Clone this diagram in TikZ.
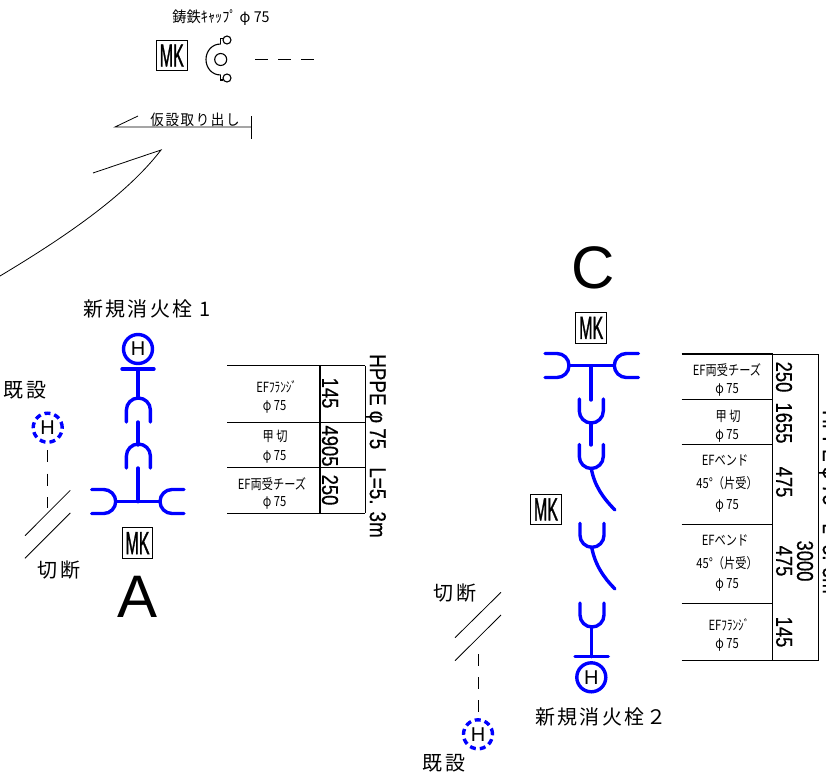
\documentclass[tikz,border=0pt]{standalone}
\usepackage{fontspec}
\setmainfont{Liberation Sans}
\newfontfamily\jp{Noto Sans CJK JP}
\newfontfamily\jpw[LetterSpace=12]{Noto Sans CJK JP}
\newfontfamily\dimf[FakeBold=0.6]{Liberation Sans}
\newfontfamily\mkf[FakeBold=1.5]{Liberation Sans}
\newcommand\tbltext[1]{\scalebox{.8}[1]{\fontsize{14}{14}\selectfont\jp #1}}
\newcommand\lbltext[1]{{\fontsize{20}{20}\selectfont\jpw #1}}
\newcommand\dimtext[1]{\scalebox{.8}[1]{\fontsize{23}{23}\selectfont\dimf #1}}
\newcommand\pipetext[1]{\scalebox{.82}[1]{\fontsize{23}{23}\selectfont\dimf #1}}
\newcommand\mktext{\scalebox{.5}[1]{\fontsize{32}{32}\selectfont\mkf MK}}
\tikzset{
  pipe/.style={draw={rgb,255:red,0;green,0;blue,255},line width=3.4pt,line cap=round},
  thinline/.style={draw=black,line width=.8pt},
  capline/.style={draw=black,line width=1.1pt},
  rowline/.style={draw=black,line width=1.2pt},
  mkbox/.style={draw=black,line width=1pt,minimum width=30.5pt,minimum height=30.5pt,inner sep=0pt,fill=white},
  hyd/.style={circle,draw={rgb,255:red,0;green,0;blue,255},line width=3.4pt,minimum size=29pt,inner sep=0pt,font=\fontsize{20}{20}\selectfont},
  hydold/.style={hyd,dash pattern=on 6pt off 4pt},
  tbl/.style={inner sep=0pt},
  dim/.style={inner sep=0pt,rotate=-90},
  usock/.pic={\path[pipe] (-12,0) -- (-12,12) .. controls (-12,18.6) and (-6.6,24) .. (0,24) .. controls (6.6,24) and (12,18.6) .. (12,12) -- (12,0);},
}
\begin{document}
\begin{tikzpicture}[x=1pt,y=-1pt]
\clip (0,0) rectangle (826,776);
% cap
\node[tbl] (captext) at (221,18) {\scalebox{.95}[1]{\fontsize{15}{15}\selectfont\jp 鋳鉄ｷｬｯﾌﾟ φ 75}};
\node[mkbox] (mk0) at (171.8,55.5) {\mktext};
\draw[capline] (220.7,44) .. controls (212,44) and (206,51) .. (206,59.5) .. controls (206,68) and (212,75) .. (220.7,75);
\draw[capline] (220.7,44) -- (220.7,38.5) -- (223,38.5);
\draw[capline] (220.7,75) -- (220.7,80) -- (223,80);
\node[circle,capline,minimum size=12pt,inner sep=0pt] (c0) at (220.7,59.5) {};
\node[circle,capline,minimum size=8pt,inner sep=0pt] (c1) at (227,40) {};
\node[circle,capline,minimum size=8pt,inner sep=0pt] (c2) at (227,78) {};
\draw[thinline,dash pattern=on 13pt off 10pt] (255,59.5) -- (314,59.5);
% temporary
\node[tbl] (temp) at (195,119.5) {\scalebox{.9}[1]{\fontsize{15}{15}\selectfont\jpw 仮設取り出し}};
\draw[thinline] (138,116) -- (115,127) -- (251,127);
\draw[thinline] (251,116) -- (251,139);
\draw[thinline] (0,276) .. controls (60,240) and (125,197) .. (161,150) -- (93,173);
% A
\node (newa) at (147,309) {\lbltext{新規消火栓 1}};
\node[hyd] (ha) at (138,349) {H};
\draw[pipe] (122,369) -- (154,369);
\draw[pipe] (138,369) -- (138,398);
\pic[rotate=180] at (138.4,422) {usock};
\draw[pipe] (138,422) -- (138,445);
\pic[rotate=180] at (138.4,468) {usock};
\draw[pipe] (138,468) -- (138,501.7);
\draw[pipe] (116.7,501.7) -- (160,501.7);
\pic[rotate=90] at (91.7,501.5) {usock};
\pic[rotate=-90] at (184,501.5) {usock};
\node[mkbox] (mka) at (137.5,543) {\mktext};
\node[inner sep=0pt] (la) at (138,597) {\fontsize{60}{60}\selectfont A};
\node (olda) at (25,390) {\lbltext{既設}};
\node[hydold] (hoa) at (47.7,427.7) {H};
\draw[thinline,dash pattern=on 12pt off 11.5pt] (47.7,450) -- (47.7,508);
\draw[thinline] (25,535.7) -- (70.3,490.3);
\draw[thinline] (25,558.3) -- (70.3,513);
\node (cuta) at (59,570) {\lbltext{切断}};
% table A
\foreach \yy in {365.7,422.3,467.3,513.3} {\draw[rowline] (227.3,\yy) -- (320,\yy);\draw[thinline] (320,\yy) -- (365,\yy);}
\draw[rowline] (320,365.7) -- (320,513.3);
\draw[thinline] (365,365.7) -- (365,513.3);
\node[tbl] at (276.7,387) {\tbltext{EFﾌﾗﾝｼﾞ}};
\node[tbl] at (274.5,407) {\tbltext{φ 75}};
\node[tbl] at (275,436.7) {\tbltext{甲 切}};
\node[tbl] at (274.5,456.7) {\tbltext{φ 75}};
\node[tbl] at (272,484.3) {\tbltext{EF両受チーズ}};
\node[tbl] at (274.5,503) {\tbltext{φ 75}};
\node[dim] at (330,393) {\dimtext{145}};
\node[dim] at (330,446) {\dimtext{4905}};
\node[dim] at (330,490) {\dimtext{250}};
\node[dim] at (375.5,446) {\pipetext{HPPE φ 75\hspace{22pt}L=5. 3m}};
% C
\node[inner sep=0pt] (lc) at (592.7,267.5) {\fontsize{60}{60}\selectfont C};
\node[mkbox] (mkc) at (591.2,327.8) {\mktext};
\draw[pipe] (570,365.7) -- (613.3,365.7);
\pic[rotate=90] at (545,365.5) {usock};
\pic[rotate=-90] at (638.3,365.5) {usock};
\draw[pipe] (591,365.7) -- (591,400);
\pic at (591.3,399) {usock};
\draw[pipe] (591,423) -- (591,445);
\pic at (591.3,444.5) {usock};
\draw[pipe] (591.3,468.3) .. controls (594,485) and (603,498) .. (615,510);
\node[mkbox] (mkc2) at (546,509.4) {\mktext};
\pic at (592,523.3) {usock};
\draw[pipe] (591.7,547.3) .. controls (595,565) and (604,578) .. (615,589);
\pic at (592,603) {usock};
\draw[pipe] (591.7,627) -- (591.7,656.7);
\draw[pipe] (575,656.7) -- (608.3,656.7);
\node[hyd] (hc) at (591.3,677.3) {H};
\node (newc) at (601,717.3) {\lbltext{新規消火栓２}};
\node (cutc) at (455,592.7) {\lbltext{切断}};
\draw[thinline] (455,637.7) -- (501,592.3);
\draw[thinline] (455,660.7) -- (501,615);
\draw[thinline,dash pattern=on 11.5pt off 11.5pt] (478,654.3) -- (478,712);
\node[hydold] (hoc) at (478,734.3) {H};
\node (oldc) at (444,763) {\lbltext{既設}};
% table C
\foreach \yy in {354,399.3,444.3,524.3,603.3,660.7} {\draw[rowline] (681.7,\yy) -- (772.7,\yy);}
\draw[thinline] (772.7,354) -- (818.3,354);
\draw[thinline] (772.7,660.7) -- (818.3,660.7);
\draw[rowline] (772.7,354) -- (772.7,660.7);
\draw[thinline] (818.3,354) -- (818.3,660.7);
\node[tbl] at (727,370) {\tbltext{EF両受チーズ}};
\node[tbl] at (727,390) {\tbltext{φ 75}};
\node[tbl] at (728,416) {\tbltext{甲 切}};
\node[tbl] at (727,436) {\tbltext{φ 75}};
\node[tbl] at (725,460) {\tbltext{EFベンド}};
\node[tbl] at (727,483) {\tbltext{45°（片受）}};
\node[tbl] at (727,506) {\tbltext{φ 75}};
\node[tbl] at (725,540) {\tbltext{EFベンド}};
\node[tbl] at (727,563) {\tbltext{45°（片受）}};
\node[tbl] at (727,585) {\tbltext{φ 75}};
\node[tbl] at (729,625) {\tbltext{EFﾌﾗﾝｼﾞ}};
\node[tbl] at (727,645) {\tbltext{φ 75}};
\node[dim] at (784,377) {\dimtext{250}};
\node[dim] at (784,423) {\dimtext{1655}};
\node[dim] at (784,482) {\dimtext{475}};
\node[dim] at (784,561) {\dimtext{475}};
\node[dim] at (805,561) {\dimtext{3000}};
\node[dim] at (784,632) {\dimtext{145}};
\node[dim] at (828.5,502) {\pipetext{HPPE φ 75\hspace{22pt}L=5. 3m}};
\end{tikzpicture}
\end{document}
